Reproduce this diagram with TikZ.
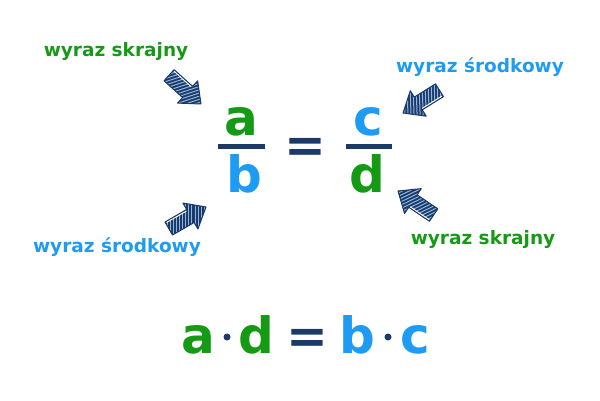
\documentclass[tikz,border=0pt]{standalone}
\usepackage{fontspec}
\setmainfont{DejaVu Sans}
\definecolor{gr}{HTML}{159A16}
\definecolor{bl}{HTML}{1E9BF2}
\definecolor{nv}{HTML}{1B3A68}
\definecolor{stripecol}{HTML}{8FB5E0}
\newcommand{\stripearrow}[2]{%
\begin{scope}[shift={#1},rotate=#2]
\begin{scope}
\clip (0,0) -- (-18,15) -- (-18,7.5) -- (-43,7.5) -- (-43,-7.5) -- (-18,-7.5) -- (-18,-15) -- cycle;
\fill[nv] (-46,-17) rectangle (2,17);
\foreach \k in {-68,-64.5,...,4} \draw[stripecol, line width=1pt] (\k,-17) -- ++(60:40);
\end{scope}
\draw[nv, line width=1pt, line join=round] (0,0) -- (-18,15) -- (-18,7.5) -- (-43,7.5) -- (-43,-7.5) -- (-18,-7.5) -- (-18,-15) -- cycle;
\draw[white, line width=0.9pt] (-42,6.3) -- (-19,6.3);
\end{scope}}
\begin{document}
\begin{tikzpicture}[x=1pt,y=1pt,
  lbl/.style={font=\bfseries\fontsize{18.5}{20}\selectfont, inner sep=0pt},
  big/.style={font=\bfseries\fontsize{50}{52}\selectfont, inner sep=0pt, anchor=base},
  fracbar/.style={nv, line width=5pt},
  dotop/.style={circle, fill=nv, inner sep=0pt, minimum size=7pt}]
\useasboundingbox (0,0) rectangle (600,400);
% labels
\node[lbl, text=gr] (t1) at (116,349) {wyraz skrajny};
\node[lbl, text=bl] (t2) at (480,333) {wyraz środkowy};
\node[lbl, text=bl] (t3) at (117,153) {wyraz środkowy};
\node[lbl, text=gr] (t4) at (483,161) {wyraz skrajny};
% fraction
\node[big, text=gr] (a) at (241.5,265) {a};
\node[big, text=bl] (b) at (244.5,208) {b};
\node[big, text=nv] (eq) at (305,238) {=};
\node[big, text=bl] (c) at (368.5,265) {c};
\node[big, text=gr] (d) at (367.5,208) {d};
\coordinate (f1l) at (218,254); \coordinate (f1r) at (265,254);
\coordinate (f2l) at (346,254); \coordinate (f2r) at (392,254);
\draw[fracbar] (f1l) -- (f1r);
\draw[fracbar] (f2l) -- (f2r);
% arrows
\stripearrow{(201,296)}{-42}
\stripearrow{(403,287)}{212}
\stripearrow{(398,209)}{146}
\stripearrow{(206,193)}{30}
% bottom equation
\node[big, text=gr] (ba) at (198,47) {a};
\node[dotop] (d1) at (227,63) {};
\node[big, text=gr] (bd) at (256.5,47) {d};
\node[big, text=nv] (beq) at (307,47) {=};
\node[big, text=bl] (bb) at (357.5,47) {b};
\node[dotop] (d2) at (388,63) {};
\node[big, text=bl] (bc) at (415,47) {c};
\end{tikzpicture}
\end{document}
